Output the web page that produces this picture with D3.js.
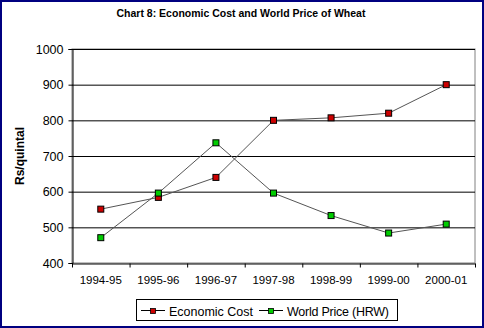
<!DOCTYPE html>
<html>
<head>
<meta charset="UTF-8">
<script src="https://d3js.org/d3.v7.min.js"></script>
<style>
    body { margin: 0; background: #fff; }
    svg { display: block; font-family: "Liberation Sans", Arial, sans-serif; }
</style>
</head>
<body>
<div id="chart"></div>
<script>
// datos del gráfico
const years = ["1994-95", "1995-96", "1996-97", "1997-98", "1998-99", "1999-00", "2000-01"];
const economicCost = [551, 584, 640, 800, 807, 820, 900];
const worldPrice = [471, 596, 737, 596, 533, 484, 509];
const yTicks = [400, 500, 600, 700, 800, 900, 1000];

const width = 484, height = 328;
const plot = { left: 72, right: 475, top: 49, bottom: 263 };

const svg = d3.select("#chart").append("svg")
    .attr("width", width)
    .attr("height", height);

// borde exterior
svg.append("rect")
    .attr("x", 1).attr("y", 1)
    .attr("width", width - 2).attr("height", height - 2)
    .attr("fill", "#fff")
    .attr("stroke", "#000080")
    .attr("stroke-width", 2);

svg.append("text")
    .attr("x", 241).attr("y", 17)
    .attr("text-anchor", "middle")
    .attr("font-size", 10.5)
    .attr("font-weight", "bold")
    .text("Chart 8: Economic Cost and World Price of Wheat");

const x = d3.scaleBand().domain(years).range([plot.left, plot.right]);
const y = d3.scaleLinear().domain([400, 1000]).range([plot.bottom, plot.top]);

// área del gráfico
svg.append("rect")
    .attr("x", plot.left).attr("y", plot.top)
    .attr("width", plot.right - plot.left).attr("height", plot.bottom - plot.top)
    .attr("fill", "#fff")
    .attr("stroke", "#808080");

// líneas de cuadrícula
svg.append("g")
    .selectAll("line")
    .data(yTicks.slice(1))
    .join("line")
    .attr("x1", plot.left).attr("x2", plot.right)
    .attr("y1", d => y(d) + 0.5).attr("y2", d => y(d) + 0.5)
    .attr("stroke", "#000")
    .attr("stroke-width", 1);

// eje Y
const yAxis = svg.append("g")
    .attr("transform", `translate(${plot.left + 0.5},0)`)
    .call(d3.axisLeft(y).tickValues(yTicks).tickFormat(d3.format("d")).tickSize(4).tickPadding(5));
yAxis.selectAll("text").attr("font-size", 12.5).attr("fill", "#000")
    .attr("font-family", "Liberation Sans, Arial, sans-serif");
yAxis.selectAll("line, path").attr("stroke", "#000");

// eje X
const xAxis = svg.append("g")
    .attr("transform", `translate(0,${plot.bottom + 0.5})`)
    .call(d3.axisBottom(x).tickSize(0).tickPadding(12));
xAxis.selectAll("text").attr("font-size", 11.5).attr("fill", "#000")
    .attr("font-family", "Liberation Sans, Arial, sans-serif");
xAxis.select("path").attr("stroke", "#000");
xAxis.append("g")
    .selectAll("line")
    .data(years.concat(["end"]))
    .join("line")
    .attr("x1", (d, i) => plot.left + i * x.bandwidth() + 0.5)
    .attr("x2", (d, i) => plot.left + i * x.bandwidth() + 0.5)
    .attr("y1", 0).attr("y2", 4)
    .attr("stroke", "#000");

// etiqueta eje Y
svg.append("text")
    .attr("transform", "translate(24,156) rotate(-90)")
    .attr("text-anchor", "middle")
    .attr("font-size", 12)
    .attr("font-weight", "bold")
    .text("Rs/quintal");

const series = [
    { name: "Economic Cost", values: economicCost, color: "#cc0000" },
    { name: "World Price (HRW)", values: worldPrice, color: "#00cc00" }
];

const line = d3.line()
    .x((d, i) => x(years[i]) + x.bandwidth() / 2)
    .y(d => y(d));

series.forEach(s => {
    svg.append("path")
        .datum(s.values)
        .attr("d", line)
        .attr("fill", "none")
        .attr("stroke", "#555")
        .attr("stroke-width", 1);
    svg.append("g")
        .selectAll("rect")
        .data(s.values)
        .join("rect")
        .attr("x", (d, i) => x(years[i]) + x.bandwidth() / 2 - 3)
        .attr("y", d => y(d) - 3)
        .attr("width", 6).attr("height", 6)
        .attr("fill", s.color)
        .attr("stroke", "#000")
        .attr("stroke-width", 1);
});

// leyenda
const legend = svg.append("g");
legend.append("rect")
    .attr("x", 136.5).attr("y", 299.5)
    .attr("width", 261).attr("height", 21)
    .attr("fill", "#fff")
    .attr("stroke", "#000");

const legendItems = [
    { s: series[0], x: 141, w: 84 },
    { s: series[1], x: 259, w: 102 }
];
legendItems.forEach(it => {
    legend.append("line")
        .attr("x1", it.x).attr("x2", it.x + 24)
        .attr("y1", 310.5).attr("y2", 310.5)
        .attr("stroke", "#000");
    legend.append("rect")
        .attr("x", it.x + 9.5).attr("y", 308.5)
        .attr("width", 5).attr("height", 5)
        .attr("fill", it.s.color)
        .attr("stroke", "#000")
        .attr("stroke-width", 0.8);
    legend.append("text")
        .attr("x", it.x + 28).attr("y", 316)
        .attr("font-size", 12.5)
        .attr("textLength", it.w)
        .attr("lengthAdjust", "spacing")
        .text(it.s.name);
});
</script>
</body>
</html>
